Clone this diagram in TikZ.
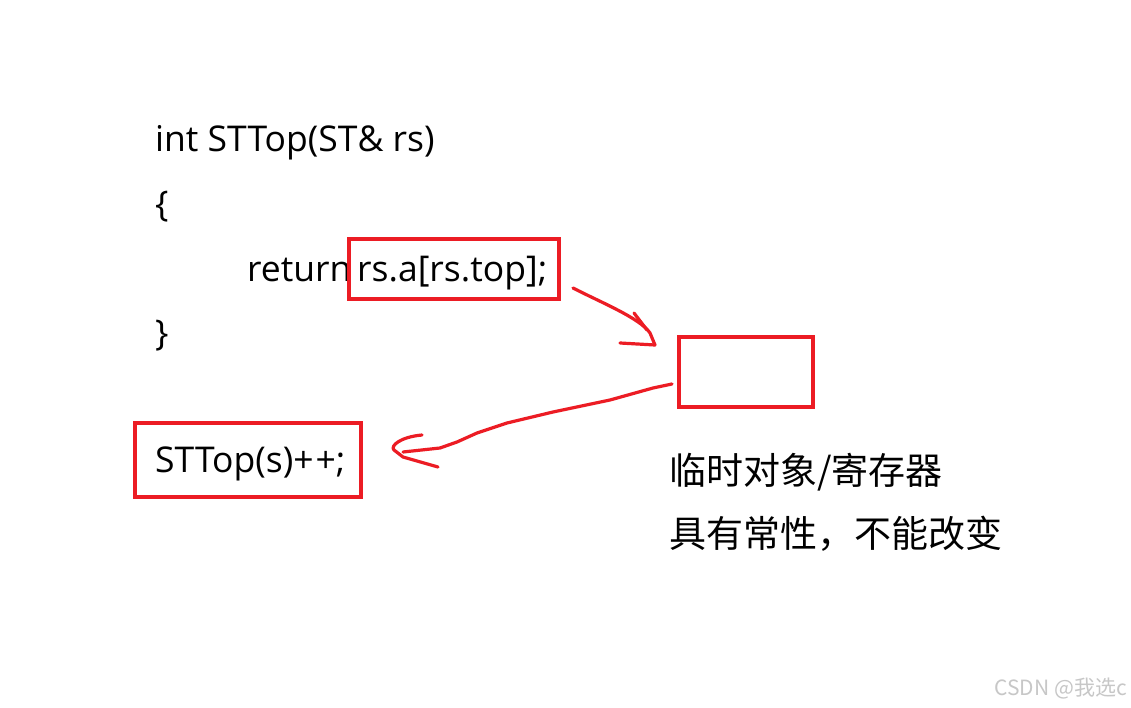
\documentclass[tikz,border=0pt]{standalone}
\usepackage{fontspec}
\setmainfont{Noto Sans CJK SC}
\newfontfamily\latinf{Open Sans}
\usetikzlibrary{calc}
\definecolor{hred}{RGB}{236,28,36}
\begin{document}
\begin{tikzpicture}[x=1pt,y=-1pt,
  code/.style={anchor=base west,inner sep=0pt,font=\latinf\fontsize{35.5}{40}\selectfont},
  cjk/.style={anchor=base west,inner sep=0pt,font=\fontsize{37}{42}\selectfont},
  redbox/.style={draw=hred,line width=3.5pt,inner sep=0pt},
  hand/.style={draw=hred,line width=3.2pt,line cap=round,line join=round}]
\useasboundingbox[fill=white] (0,0) rectangle (1131,708);
\node[code] (l1) at (155,152) {int STTop(ST\& rs)};
\node[code] (l2) at (155,217) {\{};
\node[code] (l3) at (247,282) {return};
\node[code] (l3b) at (357,282) {rs.a[rs.top];};
\node[code] (l4) at (155,345) {\}};
\node[code] (l5) at (155,472) {STTop(s)+\kern2pt+;};
\node[cjk] (c1) at (669,484) {临时对象/寄存器};
\node[cjk] (c2) at (669,547) {具有常性，不能改变};
\node[redbox,minimum width=210,minimum height=60] (b1) at (454,269) {};
\node[redbox,minimum width=134,minimum height=70] (b2) at (746,372) {};
\node[redbox,minimum width=226,minimum height=74] (b3) at (248,460) {};
\node[anchor=base east,inner sep=0pt,text=black!22,font=\fontsize{21}{24}\selectfont] (wm) at (1127,695) {CSDN @我选c};
% arrow 1
\coordinate (a1s) at (573,288);
\coordinate (a1e) at (655,345);
\draw[hand] (a1s) .. controls (600,302) and (640,318) .. (650,333) -- (a1e);
\draw[hand] (634,313) -- (647,330);
\draw[hand] (620,343) -- (a1e);
% arrow 2
\coordinate (a2s) at (672,384);
\coordinate (a2e) at (394,450);
\draw[hand] (a2s) -- (653,388) -- (610,400) -- (553,412) -- (507,423) -- (477,433) -- (457,442) -- (440,448) -- (403,452);
\draw[hand] (422,435) .. controls (400,437) and (390,446) .. (a2e) -- (403,457) -- (438,467);
\end{tikzpicture}
\end{document}
